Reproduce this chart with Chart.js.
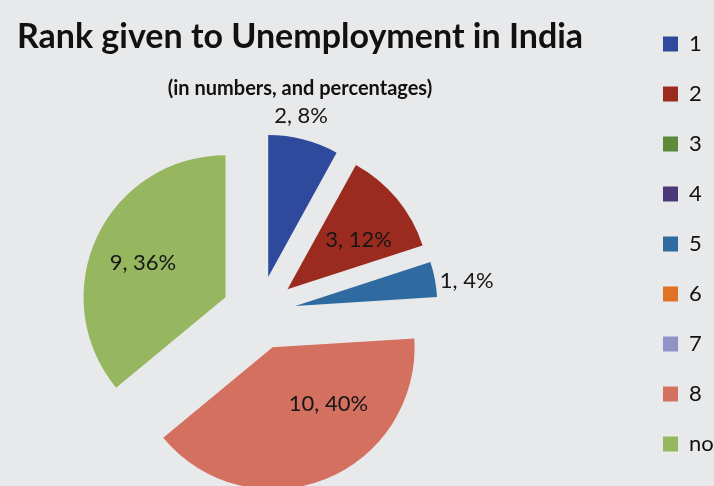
<!DOCTYPE html>
<html>
<head>
<meta charset="utf-8">
<title>Rank given to Unemployment in India</title>
<script src="https://cdn.jsdelivr.net/npm/chart.js@4/dist/chart.umd.min.js"></script>
<style>
    html, body { margin: 0; padding: 0; background: #e8e9eb; overflow: hidden; }
    #wrap { position: relative; width: 714px; height: 486px; overflow: hidden; }
    /* canvas is wider/taller than the page so the pie sits left of the title centre */
    #wrap canvas { position: absolute; left: -117px; top: 0; }
</style>
</head>
<body>
<div id="wrap"><canvas id="rankChart" width="834" height="525"></canvas></div>
<script>
// Survey answers: rank people gave to unemployment
const categories = ['1', '2', '3', '4', '5', '6', '7', '8', 'no'];
const counts = [2, 3, 0, 0, 1, 0, 0, 10, 9];

const sliceColors = ['#2f4a9c', '#9c2b1f', '#5d8a3b', '#4b3878', '#2f6ba0', '#e07225', '#8f93c8', '#d4705f', '#97b660'];

// where each value label sits: fraction along the slice angle, fraction of radius
const labelSpots = [
    { along: 0.40, out: 1.16 },
    { along: 0.61, out: 0.61 },
    null, null,
    { along: 0.67, out: 1.22 },
    null, null,
    { along: 0.34, out: 0.56 },
    { along: 0.48, out: 0.63 },
];

const EXPLODE = 37;
const total = counts.reduce((s, v) => s + v, 0);
const pct = i => Math.round(counts[i] / total * 100);

// push every slice out from the centre along its bisector
const explode = {
    id: 'explode',
    afterDatasetUpdate(chart, args) {
        args.meta.data.forEach(arc => {
            const mid = (arc.startAngle + arc.endAngle) / 2;
            arc.x += Math.cos(mid) * EXPLODE;
            arc.y += Math.sin(mid) * EXPLODE;
        });
    }
};

// "count, percent" labels
const sliceLabels = {
    id: 'sliceLabels',
    afterDatasetsDraw(chart) {
        const ctx = chart.ctx;
        const meta = chart.getDatasetMeta(0);
        ctx.save();
        ctx.font = '22px Lato';
        ctx.fillStyle = '#161616';
        ctx.textAlign = 'center';
        ctx.textBaseline = 'middle';
        meta.data.forEach((arc, i) => {
            const spot = labelSpots[i];
            if (!counts[i] || !spot) return;
            const a = arc.startAngle + (arc.endAngle - arc.startAngle) * spot.along;
            const r = arc.outerRadius * spot.out;
            ctx.fillText(counts[i] + ', ' + pct(i) + '%', arc.x + Math.cos(a) * r, arc.y + Math.sin(a) * r);
        });
        ctx.restore();
    }
};

new Chart(document.getElementById('rankChart'), {
    type: 'pie',
    data: {
        labels: categories,
        datasets: [{
            data: counts,
            backgroundColor: sliceColors,
            borderWidth: 0,
            radius: 142,
        }]
    },
    options: {
        responsive: false,
        devicePixelRatio: 1,
        animation: false,
        events: [],
        layout: { padding: { top: 5, left: 0, right: 0, bottom: 0 } },
        plugins: {
            title: {
                display: true,
                text: 'Rank given to Unemployment in India',
                color: '#111',
                font: { family: 'Lato', size: 34, weight: 'bold' },
                padding: { top: 12, bottom: 0 }
            },
            subtitle: {
                display: true,
                text: '(in numbers, and percentages)',
                color: '#111',
                font: { family: 'Lato', size: 20, weight: 'bold' },
                padding: { top: 19, bottom: 0 }
            },
            legend: {
                position: 'right',
                align: 'start',
                maxWidth: 82,
                labels: {
                    boxWidth: 15,
                    boxHeight: 15,
                    padding: 28,
                    color: '#111',
                    font: { family: 'Lato', size: 22 }
                }
            },
            tooltip: { enabled: false }
        }
    },
    plugins: [explode, sliceLabels]
});
</script>
</body>
</html>
